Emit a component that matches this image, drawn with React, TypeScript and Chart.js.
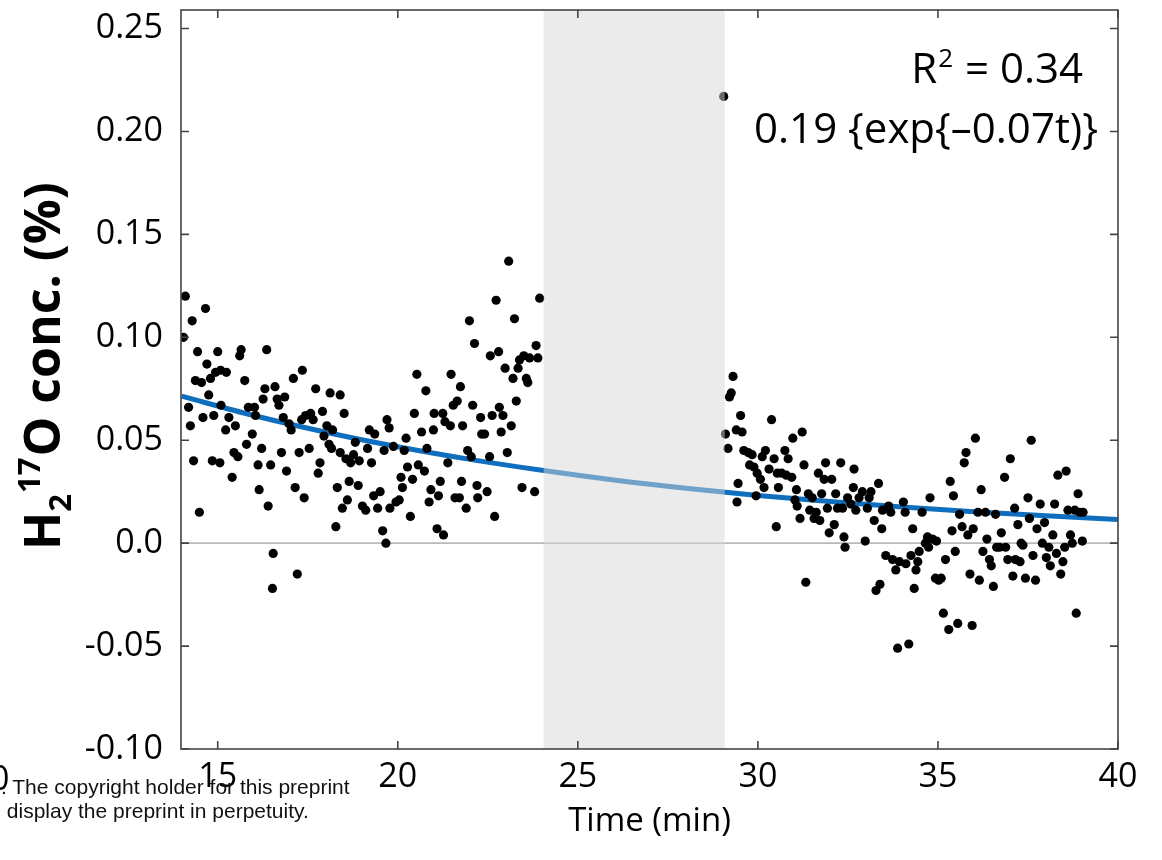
import React, { useEffect, useRef } from "react";
import { Chart, registerables } from "chart.js";

Chart.register(...registerables);

// ---------- data ----------
const X_MIN = 13.98;
const X_MAX = 40;
const Y_MIN = -0.1;
const Y_MAX = 0.259;

const X_TICKS = [15, 20, 25, 30, 35, 40];
const X_TICK_LABELS = ["15", "20", "25", "30", "35", "40"];
const Y_TICKS = [-0.1, -0.05, 0, 0.05, 0.1, 0.15, 0.2, 0.25];
const Y_TICK_LABELS = ["-0.10", "-0.05", "0.0", "0.05", "0.10", "0.15", "0.20", "0.25"];

const X_TITLE = "Time (min)";
const Y_TITLE_PARTS = ["H", "2", "17", "O conc. (%)"];
const R2_PARTS = ["R", "2", " = 0.34"];
const FIT_LABEL = "0.19 {exp{\u20130.07t)}";

// shaded interval (min)
const BAND = [24.05, 29.08];

// fitted curve
const FIT_TIME = [14, 16, 18, 20, 22, 24, 26, 28, 30, 32, 34, 36, 38, 40];
const FIT_CONC = [0.0714, 0.062, 0.0539, 0.0468, 0.0407, 0.0354, 0.0307, 0.0267, 0.0232, 0.0202, 0.0176, 0.0152, 0.0133, 0.0115];

// measured points
const TIME = [
  14.10, 14.05, 14.29, 14.66, 14.44, 15.00, 14.70, 14.38, 14.55, 14.19, 14.24, 14.33, 14.49, 14.59, 14.75, 14.80,
  14.94, 15.08, 15.24, 14.89, 15.09, 15.31, 15.22, 15.49, 15.40, 14.85, 15.06, 15.65, 15.61, 15.75, 15.85, 16.02,
  16.05, 15.96, 15.80, 15.45, 15.56, 16.12, 16.15, 16.22, 16.26, 16.31, 16.36, 16.40, 16.47, 16.54, 16.52, 16.59,
  16.65, 16.86, 16.70, 16.77, 16.82, 16.91, 16.98, 17.04, 17.10, 17.15, 17.21, 17.26, 17.35, 17.40, 17.33, 17.44,
  17.54, 17.58, 17.65, 17.72, 17.79, 17.84, 17.91, 17.95, 18.03, 18.12, 18.19, 18.09, 18.16, 18.28, 18.32, 18.40,
  18.40, 18.51, 18.46, 18.60, 18.65, 18.56, 18.69, 18.77, 18.82, 18.90, 18.93, 19.02, 19.11, 19.16, 19.21, 19.27,
  19.33, 19.36, 19.44, 19.51, 19.58, 19.67, 19.62, 19.70, 19.76, 19.78, 19.88, 19.95, 20.04, 20.09, 20.13, 20.18,
  20.23, 20.27, 20.35, 20.41, 20.46, 20.53, 20.57, 20.66, 20.74, 20.78, 20.81, 20.87, 20.92, 20.99, 21.01, 21.09,
  21.13, 21.18, 21.25, 21.27, 21.31, 21.39, 21.46, 21.48, 21.54, 21.59, 21.65, 21.71, 21.74, 21.77, 21.80, 21.90,
  21.94, 21.99, 22.04, 22.08, 22.13, 22.20, 22.22, 22.30, 22.33, 22.41, 22.48, 22.55, 22.57, 22.62, 22.69, 22.73,
  22.80, 22.82, 22.87, 22.92, 22.98, 23.04, 23.08, 23.15, 23.20, 23.24, 23.29, 23.34, 23.38, 23.45, 23.50, 23.57,
  23.61, 23.66, 23.80, 23.84, 23.89, 23.94,
  29.05, 29.31, 29.26, 29.21, 29.10, 29.17, 29.52, 29.40, 29.56, 29.45, 29.42, 29.61, 29.73, 29.84, 29.77, 29.89,
  29.98, 29.95, 30.07, 30.17, 30.12, 30.21, 30.31, 30.38, 30.45, 30.54, 30.57, 30.51, 30.66, 30.75, 30.79, 30.84,
  30.94, 30.97, 31.07, 31.03, 31.09, 31.17, 31.23, 31.28, 31.33, 31.40, 31.44, 31.51, 31.56, 31.62, 31.68, 31.72,
  31.77, 31.84, 31.88, 31.93, 31.98, 32.05, 32.12, 32.16, 32.21, 32.30, 32.35, 32.39, 32.42, 32.49, 32.58, 32.65,
  32.67, 32.72, 32.81, 32.90, 32.98, 33.04, 33.09, 33.14, 33.23, 33.28, 33.35, 33.39, 33.44, 33.46, 33.55, 33.63,
  33.69, 33.74, 33.83, 33.88, 33.93, 34.04, 34.09, 34.11, 34.19, 34.25, 34.30, 34.34, 34.39, 34.44, 34.48, 34.56,
  34.65, 34.74, 34.78, 34.71, 34.85, 34.93, 34.96, 35.02, 35.09, 35.15, 35.21, 35.30, 35.34, 35.39, 35.43, 35.48,
  35.55, 35.60, 35.67, 35.73, 35.78, 35.83, 35.89, 35.95, 35.98, 36.04, 36.11, 36.15, 36.20, 36.25, 36.32, 36.36,
  36.43, 36.48, 36.54, 36.60, 36.63, 36.71, 36.76, 36.85, 36.88, 36.94, 37.01, 37.08, 37.13, 37.15, 37.22, 37.28,
  37.31, 37.36, 37.43, 37.50, 37.54, 37.59, 37.64, 37.71, 37.75, 37.84, 37.90, 37.96, 38.01, 38.08, 38.12, 38.19,
  38.24, 38.29, 38.33, 38.41, 38.47, 38.52, 38.56, 38.61, 38.68, 38.73, 38.80, 38.84, 38.89, 38.94, 39.01, 39.03,
];

const CONC = [
  0.120, 0.100, 0.108, 0.114, 0.093, 0.093, 0.087, 0.079, 0.078, 0.066, 0.057, 0.040, 0.015, 0.061, 0.072, 0.080,
  0.083, 0.084, 0.083, 0.062, 0.067, 0.061, 0.055, 0.057, 0.032, 0.040, 0.039, 0.094, 0.091, 0.079, 0.066, 0.066,
  0.062, 0.053, 0.048, 0.044, 0.042, 0.038, 0.026, 0.046, 0.070, 0.075, 0.094, 0.018, 0.038, -0.005, -0.022, 0.076,
  0.070, 0.071, 0.067, 0.044, 0.061, 0.035, 0.058, 0.055, 0.080, 0.027, -0.015, 0.044, 0.084, 0.022, 0.060, 0.062,
  0.046, 0.063, 0.060, 0.075, 0.034, 0.039, 0.064, 0.052, 0.057, 0.073, 0.055, 0.048, 0.046, 0.008, 0.027, 0.072,
  0.044, 0.063, 0.017, 0.021, 0.030, 0.041, 0.039, 0.043, 0.049, 0.028, 0.040, 0.018, 0.016, 0.046, 0.055, 0.039,
  0.023, 0.053, 0.017, 0.025, 0.006, 0.000, 0.045, 0.060, 0.056, 0.017, 0.047, 0.020, 0.021, 0.032, 0.027, 0.045,
  0.051, 0.037, 0.013, 0.031, 0.063, 0.082, 0.038, 0.054, 0.035, 0.074, 0.046, 0.020, 0.026, 0.055, 0.063, 0.007,
  0.023, 0.030, 0.063, 0.004, 0.059, 0.039, 0.057, 0.082, 0.067, 0.022, 0.069, 0.022, 0.076, 0.030, 0.057, 0.017,
  0.045, 0.108, 0.042, 0.067, 0.097, 0.028, 0.022, 0.061, 0.053, 0.053, 0.025, 0.042, 0.091, 0.062, 0.013, 0.118,
  0.093, 0.066, 0.054, 0.062, 0.085, 0.044, 0.137, 0.057, 0.080, 0.109, 0.069, 0.085, 0.089, 0.027, 0.091, 0.080,
  0.078, 0.090, 0.025, 0.096, 0.090, 0.119,
  0.217, 0.081, 0.073, 0.071, 0.053, 0.046, 0.062, 0.055, 0.054, 0.029, 0.020, 0.045, 0.044, 0.043, 0.038, 0.037,
  0.034, 0.023, 0.031, 0.027, 0.042, 0.045, 0.036, 0.060, 0.041, 0.034, 0.027, 0.008, 0.034, 0.045, 0.033, 0.041,
  0.032, 0.051, 0.026, 0.021, 0.018, 0.012, 0.054, 0.038, -0.019, 0.024, 0.016, 0.022, 0.012, 0.015, 0.034, 0.011,
  0.024, 0.031, 0.039, 0.017, 0.005, 0.031, 0.009, 0.024, 0.017, 0.039, 0.017, 0.003, -0.002, 0.022, 0.019, 0.027,
  0.036, 0.016, 0.022, 0.025, 0.001, 0.017, 0.022, 0.025, 0.011, -0.023, 0.029, -0.020, 0.007, 0.016, -0.006, 0.018,
  0.015, -0.008, -0.013, -0.051, -0.009, 0.020, 0.015, -0.010, -0.049, -0.006, 0.007, -0.022, -0.013, -0.009, -0.004, 0.015,
  0.000, -0.002, 0.022, 0.003, 0.002, -0.017, 0.001, -0.018, -0.017, -0.034, -0.008, -0.042, 0.030, 0.006, 0.023, -0.004,
  -0.039, 0.014, 0.008, 0.039, 0.044, 0.004, -0.015, -0.040, 0.007, 0.051, 0.015, -0.018, 0.026, -0.004, 0.015, 0.002,
  -0.008, -0.011, -0.021, 0.014, -0.002, -0.002, 0.005, 0.032, -0.002, -0.008, 0.041, -0.016, 0.017, -0.008, 0.009, -0.009,
  0.000, -0.001, -0.017, 0.022, 0.012, 0.050, -0.006, -0.018, 0.007, 0.019, 0.000, 0.010, -0.007, -0.002, -0.011, 0.004,
  0.019, -0.005, 0.033, -0.015, -0.009, -0.002, 0.035, 0.016, 0.004, 0.000, 0.016, -0.034, 0.024, 0.015, 0.001, 0.015,
];

// ---------- styling ----------
const FONT = "'Open Sans', 'Noto Sans', sans-serif";
const FRAME_COLOR = "#444444";
const TICK_LEN = 8;

const findLabel = (ticks: number[], labels: string[], v: number) => {
  const i = ticks.findIndex((t) => Math.abs(t - v) < 1e-9);
  return i >= 0 ? labels[i] : "";
};

const decorPlugin = {
  id: "decor",
  beforeDatasetsDraw(chart: any) {
    const { ctx, chartArea: a, scales } = chart;
    const y0 = scales.y.getPixelForValue(0);
    ctx.save();
    ctx.strokeStyle = "#b9b9b9";
    ctx.lineWidth = 1.6;
    ctx.beginPath();
    ctx.moveTo(a.left, y0);
    ctx.lineTo(a.right, y0);
    ctx.stroke();
    ctx.restore();
  },
  afterDatasetsDraw(chart: any) {
    const { ctx, chartArea: a, scales } = chart;
    const x1 = scales.x.getPixelForValue(BAND[0]);
    const x2 = scales.x.getPixelForValue(BAND[1]);
    ctx.save();
    ctx.fillStyle = "rgba(214,214,214,0.49)";
    ctx.fillRect(x1, a.top, x2 - x1, a.bottom - a.top);
    ctx.restore();
  },
  afterDraw(chart: any) {
    const { ctx, chartArea: a, scales } = chart;
    ctx.save();
    // frame
    ctx.strokeStyle = FRAME_COLOR;
    ctx.lineWidth = 1.6;
    ctx.strokeRect(a.left, a.top, a.right - a.left, a.bottom - a.top);
    // inward ticks
    ctx.beginPath();
    X_TICKS.forEach((v) => {
      const px = scales.x.getPixelForValue(v);
      ctx.moveTo(px, a.bottom);
      ctx.lineTo(px, a.bottom - TICK_LEN);
      ctx.moveTo(px, a.top);
      ctx.lineTo(px, a.top + TICK_LEN);
    });
    Y_TICKS.forEach((v) => {
      const py = scales.y.getPixelForValue(v);
      ctx.moveTo(a.left, py);
      ctx.lineTo(a.left + TICK_LEN, py);
      ctx.moveTo(a.right, py);
      ctx.lineTo(a.right - TICK_LEN, py);
    });
    ctx.stroke();

    // annotation text
    ctx.fillStyle = "#000";
    ctx.textBaseline = "alphabetic";
    ctx.textAlign = "left";
    const big = `42px ${FONT}`;
    const sup = `26px ${FONT}`;
    ctx.font = big;
    const wR = ctx.measureText(R2_PARTS[0]).width;
    const wRest = ctx.measureText(R2_PARTS[2]).width;
    ctx.font = sup;
    const w2 = ctx.measureText(R2_PARTS[1]).width;
    const line1Right = a.right - 35;
    const line1Base = a.top + 73;
    let cx = line1Right - (wR + w2 + 2 + wRest);
    ctx.font = big;
    ctx.fillText(R2_PARTS[0], cx, line1Base);
    cx += wR + 1;
    ctx.font = sup;
    ctx.fillText(R2_PARTS[1], cx, line1Base - 16);
    cx += w2 + 1;
    ctx.font = big;
    ctx.fillText(R2_PARTS[2], cx, line1Base);
    ctx.textAlign = "right";
    ctx.fillText(FIT_LABEL, a.right - 20, a.top + 133);

    // y axis title with sub/superscripts
    ctx.translate(a.left - 121, a.bottom - 199);
    ctx.rotate(-Math.PI / 2);
    ctx.textAlign = "left";
    const tb = `bold 50px ${FONT}`;
    const ts = `bold 31px ${FONT}`;
    let tx = 0;
    ctx.font = tb;
    ctx.fillText(Y_TITLE_PARTS[0], tx, 0);
    tx += ctx.measureText(Y_TITLE_PARTS[0]).width;
    ctx.font = ts;
    ctx.fillText(Y_TITLE_PARTS[1], tx, 11);
    tx += ctx.measureText(Y_TITLE_PARTS[1]).width + 1;
    ctx.fillText(Y_TITLE_PARTS[2], tx, -20);
    tx += ctx.measureText(Y_TITLE_PARTS[2]).width + 1;
    ctx.font = tb;
    ctx.fillText(Y_TITLE_PARTS[3], tx, 0);
    ctx.restore();
  },
};

export default function App() {
  const canvasRef = useRef<HTMLCanvasElement | null>(null);

  useEffect(() => {
    if (!canvasRef.current) return;
    const points = TIME.map((t, i) => ({ x: t, y: CONC[i] }));
    const fit = FIT_TIME.map((t, i) => ({ x: t, y: FIT_CONC[i] }));
    const chart = new Chart(canvasRef.current, {
      type: "scatter",
      data: {
        datasets: [
          {
            type: "scatter",
            data: points,
            backgroundColor: "#000",
            borderWidth: 0,
            pointRadius: 4.6,
            order: 1,
          } as any,
          {
            type: "line",
            data: fit,
            borderColor: "#0f6ebd",
            borderWidth: 5,
            pointRadius: 0,
            fill: false,
            cubicInterpolationMode: "monotone",
            order: 2,
          } as any,
        ],
      },
      options: {
        responsive: false,
        animation: false,
        devicePixelRatio: 1,
        layout: { padding: { top: 10, right: 44, left: 0, bottom: 0 } },
        plugins: {
          legend: { display: false },
          tooltip: { enabled: false },
          title: { display: false },
        },
        scales: {
          x: {
            type: "linear",
            min: X_MIN,
            max: X_MAX,
            grid: { display: false, drawTicks: false },
            border: { display: false },
            afterBuildTicks: (s: any) => {
              s.ticks = X_TICKS.map((v) => ({ value: v }));
            },
            afterFit: (s: any) => {
              s.height = 111;
              s.paddingLeft = 0;
              s.paddingRight = 0;
            },
            ticks: {
              font: { family: FONT, size: 34 },
              color: "#000",
              padding: 8,
              maxRotation: 0,
              autoSkip: false,
              callback: (v: any) => findLabel(X_TICKS, X_TICK_LABELS, Number(v)),
            },
            title: {
              display: true,
              text: X_TITLE,
              font: { family: FONT, size: 33 },
              color: "#000",
              padding: { top: 0, bottom: 19 },
            },
          },
          y: {
            type: "linear",
            min: Y_MIN,
            max: Y_MAX,
            grid: { display: false, drawTicks: false },
            border: { display: false },
            afterBuildTicks: (s: any) => {
              s.ticks = Y_TICKS.map((v) => ({ value: v }));
            },
            afterFit: (s: any) => {
              s.width = 181;
              s.paddingTop = 0;
              s.paddingBottom = 0;
            },
            ticks: {
              font: { family: FONT, size: 34 },
              color: "#000",
              padding: 18,
              autoSkip: false,
              callback: (v: any) => findLabel(Y_TICKS, Y_TICK_LABELS, Number(v)),
            },
          },
        },
      } as any,
      plugins: [decorPlugin],
    });
    return () => chart.destroy();
  }, []);

  return (
    <div style={{ position: "absolute", left: 0, top: 0, width: 1162, height: 860, background: "#fff", overflow: "hidden" }}>
      <canvas ref={canvasRef} width={1162} height={860} style={{ display: "block" }} />
      <div
        style={{
          position: "absolute",
          left: -10,
          top: 760,
          fontFamily: FONT,
          fontSize: 34,
          lineHeight: "34px",
          color: "#000",
        }}
      >
        0
      </div>
      <div
        style={{
          position: "absolute",
          left: 1,
          top: 775,
          fontFamily: "'Liberation Sans', Arial, sans-serif",
          fontSize: 21,
          lineHeight: "24px",
          color: "#111",
          whiteSpace: "pre",
        }}
      >
        {". The copyright holder for this preprint\n display the preprint in perpetuity."}
      </div>
    </div>
  );
}
